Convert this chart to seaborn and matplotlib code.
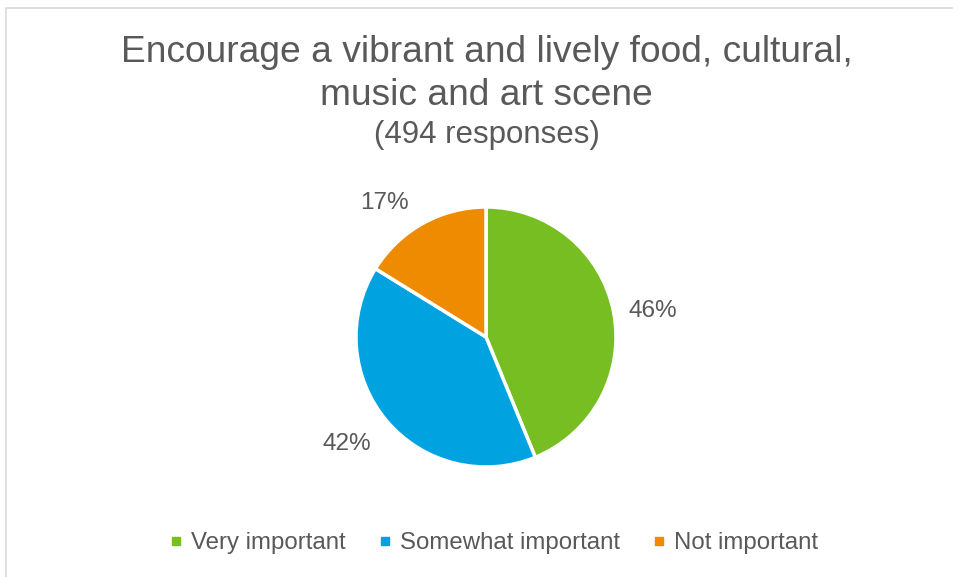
import matplotlib
matplotlib.use("Agg")
import matplotlib.pyplot as plt
import seaborn as sns
from matplotlib.patches import Rectangle
from matplotlib.lines import Line2D

categories = ["Very important", "Somewhat important", "Not important"]
values = [46, 42, 17]
colors = ["#77BE22", "#00A2DF", "#EE8B00"]
title_lines = ["Encourage a vibrant and lively food, cultural,", "music and art scene"]
title_sub = "(494 responses)"

sns.set_theme(style="white")
plt.rcParams["font.family"] = ["Liberation Sans", "DejaVu Sans"]
TXT = "#595959"

W, H = 954, 577
fig = plt.figure(figsize=(W / 100, H / 100), dpi=100)
fig.patch.set_facecolor("white")

# chart border
fig.add_artist(Rectangle((6.5 / W, -0.1), 2.0, (H - 7.5) / H + 0.1, transform=fig.transFigure,
                         fill=False, edgecolor="#D9D9D9", linewidth=1.2))

cx, cy, r = 486, 337, 130
half = 1.25 * r
ax = fig.add_axes([(cx - half) / W, (H - cy - half) / H, 2 * half / W, 2 * half / H])
total = sum(values)
wedges, _, autotexts = ax.pie(
    values, colors=colors, startangle=90, counterclock=False,
    wedgeprops=dict(edgecolor="white", linewidth=2.5),
    autopct=lambda p: f"{round(p * total / 100)}%", pctdistance=1.31,
    textprops=dict(color=TXT, fontsize=17.5),
)
# small label nudges (Excel-like best-fit placement)
nudges = [(0.0, -0.05), (-0.07, 0.025), (-0.14, -0.11)]
for t, (dx, dy) in zip(autotexts, nudges):
    x, y = t.get_position()
    t.set_position((x + dx, y + dy))
ax.set_xlim(-1.25, 1.25)
ax.set_ylim(-1.25, 1.25)
ax.set_aspect("equal")
ax.axis("off")

xc = 486.5 / W
for line, y in zip(title_lines, [52, 95]):
    fig.text(xc, (H - y) / H, line, ha="center", va="center", fontsize=26.7, color=TXT)
fig.text(xc, (H - 135) / H, title_sub, ha="center", va="center", fontsize=22.5, color=TXT)

handles = [Line2D([0], [0], marker="s", linestyle="none", markersize=6,
                  markerfacecolor=c, markeredgecolor=c) for c in colors]
fig.legend(handles, categories, loc="center", bbox_to_anchor=(494 / W, (H - 543) / H),
           ncol=3, frameon=False, fontsize=17.3, labelcolor=TXT, handlelength=0.5,
           handletextpad=0.35, columnspacing=1.4)

fig.savefig("out.png", dpi=100)
